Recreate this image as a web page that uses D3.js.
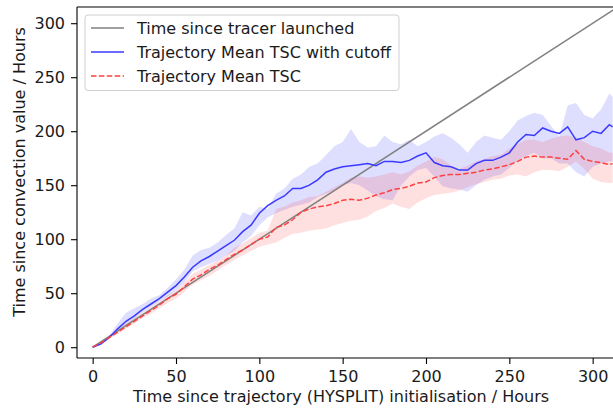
<!DOCTYPE html>
<html>
<head>
<meta charset="utf-8">
<script src="https://cdn.jsdelivr.net/npm/d3@7"></script>
<style>
  body { margin: 0; background: #fff; }
  text { font-family: "DejaVu Sans", sans-serif; fill: #1a1a1a; }
</style>
</head>
<body>
<svg id="chart" width="613" height="408"></svg>
<script>
// hours since trajectory initialisation
const hours = [0, 5, 10, 15, 20, 25, 30, 35, 40, 45, 50, 55, 60, 65, 70, 75, 80, 85, 90, 95,
  100, 105, 110, 115, 120, 125, 130, 135, 140, 145, 150, 155, 160, 165, 170, 175, 180, 185, 190, 195,
  200, 205, 210, 215, 220, 225, 230, 235, 240, 245, 250, 255, 260, 265, 270, 275, 280, 285, 290, 295,
  300, 305, 310, 312];

// Trajectory Mean TSC with cutoff (blue) + spread
const blueMean = [0, 3, 9, 17, 24, 29, 35, 40, 45, 51, 57, 65, 74, 80, 84, 89, 94, 99, 107, 113,
  124, 131, 136, 140, 147, 147, 150, 155, 162, 165, 167, 168, 169, 170, 168, 172, 172, 171, 173, 177,
  180, 171, 168, 167, 164, 164, 170, 173, 173, 176, 180, 190, 197, 196, 203, 200, 198, 204, 192, 194,
  200, 198, 206, 204];
const blueLow = [0, 2, 8, 15, 21, 26, 32, 37, 42, 47, 53, 60, 70, 74, 77, 80, 85, 89, 97, 103,
  113, 120, 124, 127, 130, 132, 134, 139, 142, 145, 150, 152, 150, 145, 140, 137, 136, 150, 158, 164,
  166, 158, 149, 147, 146, 144, 150, 155, 158, 160, 166, 173, 177, 180, 175, 175, 170, 170, 162, 158,
  167, 170, 172, 172];
const blueHigh = [0, 4, 11, 22, 32, 36, 40, 45, 48, 55, 63, 72, 85, 90, 92, 97, 104, 110, 125, 122,
  130, 128, 142, 147, 156, 160, 167, 170, 178, 186, 190, 202, 190, 185, 186, 196, 190, 188, 192, 186,
  190, 195, 198, 194, 188, 180, 190, 196, 194, 192, 200, 210, 214, 217, 215, 205, 195, 224, 226, 215,
  212, 220, 235, 232];

// Trajectory Mean TSC (red) + spread
const redMean = [0, 4, 9, 14, 19, 24, 29, 34, 39, 45, 49, 56, 63, 67, 72, 76, 81, 86, 90, 95,
  100, 102, 111, 113, 118, 125, 128, 130, 131, 133, 136, 137, 136, 138, 141, 143, 146, 147, 149, 152,
  153, 157, 159, 160, 160, 161, 162, 164, 165, 167, 169, 172, 176, 177, 176, 176, 175, 174, 182, 174,
  172, 171, 169, 170];
const redLow = [0, 3, 8, 12, 17, 22, 27, 31, 36, 41, 45, 51, 58, 62, 66, 71, 76, 81, 85, 89,
  93, 95, 97, 101, 105, 106, 108, 109, 110, 113, 115, 117, 118, 121, 126, 129, 133, 130, 128, 134,
  138, 141, 142, 143, 145, 148, 151, 153, 155, 156, 159, 160, 158, 162, 164, 164, 163, 167, 172, 165,
  156, 153, 152, 152];
const redHigh = [0, 5, 10, 16, 22, 27, 32, 37, 42, 48, 53, 60, 68, 72, 76, 80, 85, 92, 96, 101,
  106, 108, 128, 130, 134, 136, 139, 140, 144, 148, 152, 157, 158, 157, 158, 160, 162, 160, 163, 168,
  172, 176, 174, 168, 165, 168, 172, 174, 177, 178, 184, 188, 192, 192, 190, 193, 195, 196, 194, 190,
  186, 184, 180, 180];

const xTicks = [0, 50, 100, 150, 200, 250, 300];
const yTicks = [0, 50, 100, 150, 200, 250, 300];
const legendLabels = ["Time since tracer launched", "Trajectory Mean TSC with cutoff", "Trajectory Mean TSC"];

const plotLeft = 77, plotRight = 613, plotTop = 7, plotBottom = 358;
const fontSize = "16px";

const svg = d3.select("#chart");

const x = d3.scaleLinear().domain([-9.4, 312.2]).range([plotLeft, plotRight]);
const y = d3.scaleLinear().domain([-10, 315]).range([plotBottom, plotTop]);

svg.append("clipPath").attr("id", "plot")
    .append("rect")
    .attr("x", plotLeft).attr("y", plotTop)
    .attr("width", plotRight - plotLeft).attr("height", plotBottom - plotTop);

const g = svg.append("g").attr("clip-path", "url(#plot)");

const rows = hours.map((h, i) => ({
    h: h, bm: blueMean[i], bl: blueLow[i], bh: blueHigh[i],
    rm: redMean[i], rl: redLow[i], rh: redHigh[i]
}));

// spread bands
g.append("path")
    .datum(rows)
    .attr("fill", "#0000ff")
    .attr("fill-opacity", 0.13)
    .attr("d", d3.area().x(d => x(d.h)).y0(d => y(d.bl)).y1(d => y(d.bh)));

g.append("path")
    .datum(rows)
    .attr("fill", "#ff0000")
    .attr("fill-opacity", 0.12)
    .attr("d", d3.area().x(d => x(d.h)).y0(d => y(d.rl)).y1(d => y(d.rh)));

// time since tracer launched: y = x
g.append("path")
    .datum([0, 315])
    .attr("fill", "none")
    .attr("stroke", "#808080")
    .attr("stroke-width", 1.5)
    .attr("d", d3.line().x(d => x(d)).y(d => y(d)));

g.append("path")
    .datum(rows)
    .attr("fill", "none")
    .attr("stroke", "#3a3aff")
    .attr("stroke-width", 1.5)
    .attr("d", d3.line().x(d => x(d.h)).y(d => y(d.bm)));

g.append("path")
    .datum(rows)
    .attr("fill", "none")
    .attr("stroke", "#ff4040")
    .attr("stroke-width", 1.5)
    .attr("stroke-dasharray", "5.5,2.4")
    .attr("d", d3.line().x(d => x(d.h)).y(d => y(d.rm)));

// axes
const xAxis = svg.append("g")
    .attr("transform", "translate(0," + plotBottom + ")")
    .call(d3.axisBottom(x).tickValues(xTicks).tickSize(6).tickPadding(7));
const yAxis = svg.append("g")
    .attr("transform", "translate(" + plotLeft + ",0)")
    .call(d3.axisLeft(y).tickValues(yTicks).tickSize(6).tickPadding(6));

[xAxis, yAxis].forEach(a => {
    a.selectAll("text").attr("font-size", fontSize).attr("font-family", "DejaVu Sans").attr("fill", "#1a1a1a");
    a.selectAll("line").attr("stroke", "#000").attr("stroke-width", 1.1);
    a.select(".domain").remove();
});

// spines
svg.append("line").attr("x1", plotLeft).attr("x2", plotLeft).attr("y1", plotTop).attr("y2", plotBottom)
    .attr("stroke", "#000").attr("stroke-width", 1.1);
svg.append("line").attr("x1", plotLeft).attr("x2", plotRight).attr("y1", plotBottom).attr("y2", plotBottom)
    .attr("stroke", "#000").attr("stroke-width", 1.1);
svg.append("line").attr("x1", plotLeft).attr("x2", plotRight).attr("y1", plotTop).attr("y2", plotTop)
    .attr("stroke", "#000").attr("stroke-width", 1.1);

// axis labels
svg.append("text")
    .attr("x", 341).attr("y", 402)
    .attr("text-anchor", "middle")
    .attr("font-size", fontSize)
    .text("Time since trajectory (HYSPLIT) initialisation / Hours");

svg.append("text")
    .attr("transform", "translate(25,172)rotate(-90)")
    .attr("text-anchor", "middle")
    .attr("font-size", fontSize)
    .text("Time since convection value / Hours");

// legend
svg.append("rect")
    .attr("x", 85).attr("y", 15)
    .attr("width", 314).attr("height", 75.5)
    .attr("rx", 3)
    .attr("fill", "#fff").attr("fill-opacity", 0.8)
    .attr("stroke", "#d0d0d0").attr("stroke-width", 1);

const legendStyles = [
    { stroke: "#808080", dash: null },
    { stroke: "#3a3aff", dash: null },
    { stroke: "#ff4040", dash: "5.5,2.4" }
];

const legend = svg.selectAll(".leg")
    .data(legendLabels)
    .enter().append("g")
    .attr("class", "leg")
    .attr("transform", (d, i) => "translate(91," + (28 + i * 24) + ")");

legend.append("line")
    .attr("x1", 0).attr("x2", 33)
    .attr("stroke", (d, i) => legendStyles[i].stroke)
    .attr("stroke-width", 1.5)
    .attr("stroke-dasharray", (d, i) => legendStyles[i].dash);

legend.append("text")
    .attr("x", 46).attr("y", 6)
    .attr("font-size", fontSize)
    .text(d => d);
</script>
</body>
</html>
